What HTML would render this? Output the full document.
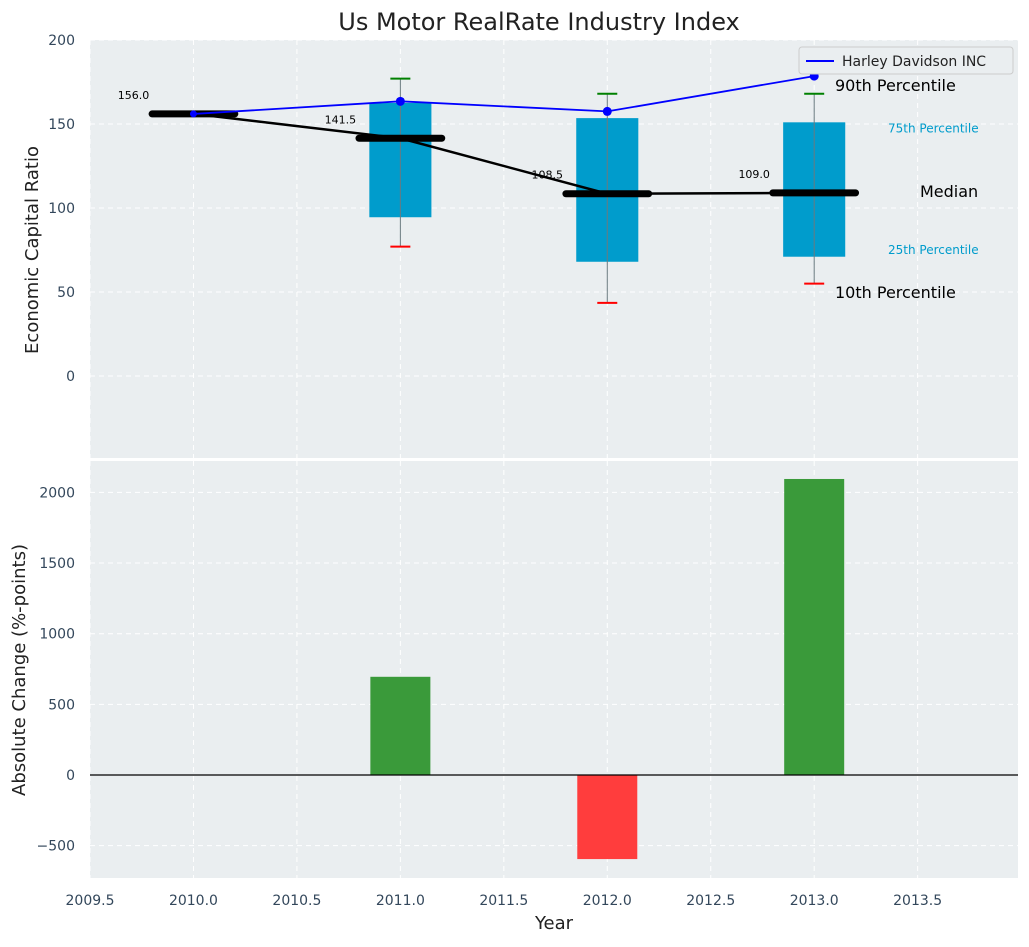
<!DOCTYPE html>
<html><head><meta charset="utf-8"><style>
body{margin:0;background:#fff;font-family:"Liberation Sans","DejaVu Sans",sans-serif}
svg text{font-family:"DejaVu Sans","Liberation Sans",sans-serif}
</style></head><body>
<svg id="c" width="1029" height="942" xmlns="http://www.w3.org/2000/svg"></svg>
<script>
const years=[2010,2011,2012,2013];
const medians=[156,141.5,108.5,109];
const q1=[null,94.5,68,71];
const q3=[null,162.5,153.5,151];
const p10=[null,77,43.5,55];
const p90=[null,177,168,168];
const company=[156,163.5,157.5,178.5];
const changes=[0,695,-595,2095];
const xTicks=[2009.5,2010,2010.5,2011,2011.5,2012,2012.5,2013,2013.5];
const yTopTicks=[0,50,100,150,200];
const yBotTicks=[-500,0,500,1000,1500,2000];

const NS="http://www.w3.org/2000/svg";
const svg=document.getElementById('c');
function mk(t,a,p){const e=document.createElementNS(NS,t);for(const k in a)e.setAttribute(k,a[k]);(p||svg).appendChild(e);return e;}
const L=90,R=1018,x0=2009.5,x1=2013.985;
const X=v=>L+(v-x0)/(x1-x0)*(R-L);
const tT=40,tB=458,yT=v=>376-v*1.68;
const bT=461,bB=878,yB=v=>775-v*0.1413;

let t=mk('text',{x:539,y:30,'text-anchor':'middle','font-size':24,fill:'#222'});t.textContent='Us Motor RealRate Industry Index';


let p1=mk('rect',{x:L,y:tT,width:R-L,height:tB-tT,fill:'#eaeef0'});

let p2=mk('rect',{x:L,y:bT,width:R-L,height:bB-bT,fill:'#eaeef0'});


xTicks.forEach(v=>{
  mk('line',{x1:X(v),x2:X(v),y1:tT,y2:tB,stroke:'#fff','stroke-dasharray':'5,4','stroke-width':1});
  mk('line',{x1:X(v),x2:X(v),y1:bT,y2:bB,stroke:'#fff','stroke-dasharray':'5,4','stroke-width':1});
  const e=mk('text',{x:X(v),y:905,'text-anchor':'middle','font-size':14,fill:'#33475b'});e.textContent=v.toFixed(1);
  
});
yTopTicks.forEach(v=>{
  mk('line',{x1:L,x2:R,y1:yT(v),y2:yT(v),stroke:'#fff','stroke-dasharray':'5,4'});
  const e=mk('text',{x:75,y:yT(v)+5,'text-anchor':'end','font-size':14,fill:'#33475b'});e.textContent=v;
  
});
yBotTicks.forEach(v=>{
  mk('line',{x1:L,x2:R,y1:yB(v),y2:yB(v),stroke:'#fff','stroke-dasharray':'5,4'});
  const e=mk('text',{x:75,y:yB(v)+5,'text-anchor':'end','font-size':14,fill:'#33475b'});e.textContent=(v<0?'\u2212'+(-v):v);
  
});

const hw=0.15;
years.forEach((y,i)=>{
  if(q1[i]==null)return;
  const b=mk('rect',{x:X(y-hw),y:yT(q3[i]),width:X(y+hw)-X(y-hw),height:yT(q1[i])-yT(q3[i]),fill:'#009ccc'});
  
  mk('line',{x1:X(y),x2:X(y),y1:yT(p90[i]),y2:yT(p10[i]),stroke:'#6a7a80','stroke-width':1});
  const w1=mk('line',{x1:X(y)-10,x2:X(y)+10,y1:yT(p90[i]),y2:yT(p90[i]),stroke:'green','stroke-width':2});
  
  const w2=mk('line',{x1:X(y)-10,x2:X(y)+10,y1:yT(p10[i]),y2:yT(p10[i]),stroke:'red','stroke-width':2});
  
});
const ml=mk('polyline',{points:years.map((y,i)=>X(y)+','+yT(medians[i])).join(' '),fill:'none',stroke:'#000','stroke-width':2.5});

years.forEach((y,i)=>{
  const m=mk('line',{x1:X(y-0.2),x2:X(y+0.2),y1:yT(medians[i]),y2:yT(medians[i]),stroke:'#000','stroke-width':7,'stroke-linecap':'round'});
  
  const l=mk('text',{x:X(y)-60,y:yT(medians[i])-15,'text-anchor':'middle','font-size':11,fill:'#000'});l.textContent=medians[i].toFixed(1);
  
});
const cl=mk('polyline',{points:years.map((y,i)=>X(y)+','+yT(company[i])).join(' '),fill:'none',stroke:'blue','stroke-width':1.8});

years.forEach((y,i)=>{
  const c=mk('circle',{cx:X(y),cy:yT(company[i]),r:i==0?3.5:4.5,fill:'blue'});
  
});
const last=3,xl=X(2013);
[['90th Percentile',p90[last]+4.6,835-xl,16,'#000'],['75th Percentile',q3[last]-3,888-xl,12,'#009ccc'],['Median',medians[last]+0.5,920-xl,16,'#000'],['25th Percentile',q1[last]+4.6,888-xl,12,'#009ccc'],['10th Percentile',p10[last]-5.6,835-xl,16,'#000']].forEach(a=>{
  const e=mk('text',{x:xl+a[2],y:yT(a[1])+5,'font-size':a[3],fill:a[4]});e.textContent=a[0];
  
});
const lg=mk('g',{});
mk('rect',{x:799,y:47,width:214,height:27,fill:'#eaeef0',stroke:'#ccc',rx:3},lg);
mk('line',{x1:806,x2:834,y1:61,y2:61,stroke:'blue','stroke-width':2},lg);
const lt=mk('text',{x:842,y:66,'font-size':14,fill:'#222'},lg);lt.textContent='Harley Davidson INC';

years.forEach((y,i)=>{
  if(changes[i]===0)return;
  const v=changes[i];
  const b=mk('rect',{x:X(y-0.145),width:X(y+0.145)-X(y-0.145),y:Math.min(yB(v),yB(0)),height:Math.abs(yB(v)-yB(0)),fill:v>=0?'#3a9a3a':'#ff3d3d'});
  
});
mk('line',{x1:L,x2:R,y1:yB(0),y2:yB(0),stroke:'#000','stroke-width':1.2});

let a=mk('text',{x:554,y:929,'text-anchor':'middle','font-size':18,fill:'#222'});a.textContent='Year';

a=mk('text',{x:0,y:0,'text-anchor':'middle','font-size':18,fill:'#222',transform:'translate(38,250) rotate(-90)'});a.textContent='Economic Capital Ratio';

a=mk('text',{x:0,y:0,'text-anchor':'middle','font-size':18,fill:'#222',transform:'translate(25,670) rotate(-90)'});a.textContent='Absolute Change (%-points)';

</script>
</body></html>
